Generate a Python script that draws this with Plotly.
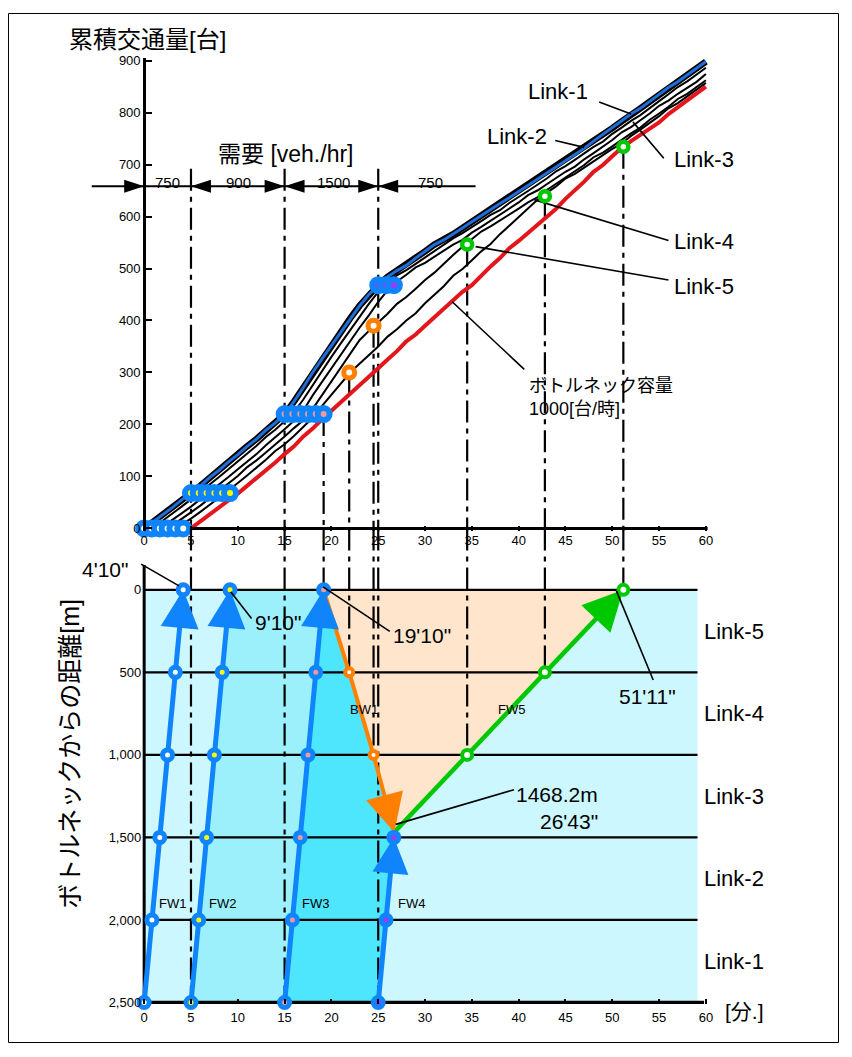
import plotly.graph_objects as go

# page: 852x1057 window, default 8px body margin -> figure 836x1041 placed at (8, 8)
OX, OY = 8, 8
W, H = 836, 1041

# ---------------- data ----------------
minutes = list(range(61))
# cumulative vehicle counts at link boundaries
cum_2500 = [0, 13, 27, 40, 55, 68, 82, 98, 112, 128,
            142, 158, 172, 189, 203, 220, 244, 271, 300, 326,
            352, 378, 404, 428, 450, 468, 484, 496, 506, 520,
            533, 546, 555, 566, 578, 590, 602, 614, 625, 636,
            648, 660, 672, 683, 696, 708, 720, 731, 745, 758,
            770, 783, 797, 808, 821, 834, 848, 859, 872, 885,
            898]
cum_2000 = [None, 2, 15, 29, 42, 56, 70, 84, 99, 114,
            129, 144, 159, 176, 190, 206, 224, 248, 276, 304,
            330, 356, 381, 408, 432, 455, 472, 487, 497, 509,
            521, 534, 545, 558, 568, 579, 591, 603, 612, 626,
            637, 649, 661, 673, 687, 697, 709, 721, 734, 744,
            759, 771, 784, 795, 809, 822, 835, 849, 860, 873,
            886]
cum_1500 = [None, None, 4, 16, 29, 42, 56, 70, 85, 99,
            114, 129, 143, 160, 175, 191, 207, 227, 256, 282,
            308, 335, 360, 386, 410, 436, 458, 475, 488, 502,
            511, 523, 535, 546, 555, 569, 580, 592, 604, 615,
            627, 641, 650, 662, 674, 686, 696, 710, 722, 735,
            747, 762, 772, 785, 798, 813, 823, 836, 848, 859,
            874]
cum_1000 = [None, None, None, 6, 18, 31, 44, 58, 72, 86,
            101, 118, 131, 146, 161, 177, 193, 208, 230, 256,
            283, 310, 336, 362, 380, 396, 413, 432, 445, 461,
            478, 492, 510, 526, 542, 557, 571, 581, 592, 604,
            615, 627, 637, 651, 663, 675, 687, 699, 714, 723,
            735, 748, 760, 771, 786, 798, 811, 826, 836, 849,
            862]
cum_500 = [None, None, None, None, 8, 19, 32, 45, 59, 73,
           87, 102, 117, 132, 149, 162, 178, 195, 213, 236,
           258, 280, 300, 317, 333, 350, 369, 383, 400, 414,
           433, 450, 466, 486, 499, 516, 533, 547, 566, 582,
           599, 616, 632, 646, 658, 673, 682, 694, 706, 718,
           730, 740, 755, 767, 780, 793, 808, 818, 831, 844,
           857]
cum_bottleneck = [None, None, None, None, None, 0, 14, 27, 42, 54,
                  67, 82, 95, 112, 127, 143, 158, 177, 192, 210,
                  226, 243, 260, 274, 292, 308, 325, 341, 360, 373,
                  390, 406, 422, 438, 455, 468, 487, 504, 520, 539,
                  553, 569, 585, 601, 615, 634, 650, 667, 686, 699,
                  716, 732, 745, 757, 771, 781, 797, 810, 823, 836,
                  850]

x_ticks = [0, 5, 10, 15, 20, 25, 30, 35, 40, 45, 50, 55, 60]
cum_ticks = [0, 100, 200, 300, 400, 500, 600, 700, 800, 900]
dist_ticks = [0, 500, 1000, 1500, 2000, 2500]
dist_tick_text = ["0", "500", "1,000", "1,500", "2,000", "2,500"]

# demand
demand_breaks = [0, 5, 15, 25]
demand_line_t = [-5.6, 35.4]
demand_level = 658
demand_top = 692
demand_values = ["750", "900", "1500", "750"]
demand_label_t = [2.5, 10.1, 20.2, 30.6]
# (tip, tail) of the dimension arrowheads
dim_heads = [(0, -2.6), (5, 7.6), (15, 12.4), (15, 17.6), (25, 22.4), (25, 27.6)]

# links (bottom chart)
link_bounds = [0, 500, 1000, 1500, 2000]
link_names = ["Link-5", "Link-4", "Link-3", "Link-2", "Link-1"]
link_mid = [250, 750, 1250, 1750, 2250]
diagram_end_t = 59.1

# shock / forward waves
fw_d = [2500, 2000, 1500, 1000, 500, 0]
fw1_t = [0, 0.83, 1.67, 2.5, 3.33, 4.17]
fw2_t = [5, 5.83, 6.67, 7.5, 8.33, 9.17]
fw3_t = [15, 15.83, 16.67, 17.5, 18.33, 19.17]
fw4_t = [25, 25.83, 26.67]
fw4_d = [2500, 2000, 1500]
fw_N = [0, 68, 220, 468]            # cumulative count carried by FW1..FW4
meet_t, meet_d = 26.72, 1468.2
bw1_t = [19.17, 21.9, 24.5, 26.72]
bw1_d = [0, 500, 1000, 1468.2]
bw1_N = [300, 390]                  # at 500 m and 1000 m
fw5_t = [26.72, 34.5, 42.8, 51.18]
fw5_d = [1468.2, 1000, 500, 0]
fw5_N = [546, 639, 734]
fw_centers = ["white", "#ffff00", "#f59a9a", "#9b3cf0"]

# ---------------- styles ----------------
FONT = "Liberation Sans, Arial, Noto Sans CJK JP, sans-serif"
BLUE = "#0f84fb"
CURVE_BLUE = "#1e6fd9"
RED = "#e3161c"
ORANGE = "#ff8000"
GREEN = "#00c800"
LIGHT = "#ccf7ff"
MED = "#9cf0fc"
DARK = "#4de6fc"
PEACH = "#ffe5cc"
DD = "22px,6px,5px,6px"


def px(p):
    return (p - OX) / W


def py(p):
    return 1 - (p - OY) / H


XR = [-6.05, 60.2]
XDOM = [px(88), px(712)]
Y1R = [-5, 905]
Y1DOM = [py(531.6), py(53.4)]
Y2R = [2510, -372]
Y2DOM = [py(1009.7), py(528.95)]
AXIS_X = px(145)

fig = go.Figure()


def axes(sub):
    return ("x", "y") if sub == 1 else ("x2", "y2")


def add_line(x, y, sub, color="black", width=2, dash=None):
    xa, ya = axes(sub)
    fig.add_trace(go.Scatter(x=x, y=y, xaxis=xa, yaxis=ya, mode="lines",
                             line=dict(color=color, width=width, dash=dash),
                             hoverinfo="skip", showlegend=False))


def add_markers(x, y, sub, ring, center, size, lw):
    xa, ya = axes(sub)
    fig.add_trace(go.Scatter(x=x, y=y, xaxis=xa, yaxis=ya, mode="markers",
                             marker=dict(symbol="circle", size=size, color=center,
                                         opacity=1, line=dict(color=ring, width=lw)),
                             cliponaxis=False, hoverinfo="skip", showlegend=False))


def add_head(x_from, y_from, x_tip, y_tip, sub, color, symbol, size):
    # arrowhead marker oriented along the segment (from -> tip)
    xa, ya = axes(sub)
    fig.add_trace(go.Scatter(x=[x_from, x_tip], y=[y_from, y_tip], xaxis=xa, yaxis=ya,
                             mode="markers",
                             marker=dict(symbol=symbol, size=[0, size], color=color,
                                         opacity=1, angleref="previous",
                                         line=dict(width=0)),
                             cliponaxis=False, hoverinfo="skip", showlegend=False))


def add_fill(x, y, color):
    fig.add_trace(go.Scatter(x=x, y=y, xaxis="x2", yaxis="y2", mode="lines",
                             fill="toself", fillcolor=color, line=dict(width=0),
                             hoverinfo="skip", showlegend=False))


# ---------------- bottom chart ----------------
add_fill([0, diagram_end_t, diagram_end_t, 0], [0, 0, 2500, 2500], LIGHT)
add_fill(fw2_t + fw3_t[::-1], fw_d + fw_d[::-1], MED)
add_fill(fw3_t + bw1_t[1:] + [meet_t] + fw4_t[::-1],
         fw_d + bw1_d[1:] + [meet_d] + fw4_d[::-1], DARK)
add_fill(bw1_t + fw5_t[1:], bw1_d + fw5_d[1:], PEACH)

for d in link_bounds:
    add_line([0, diagram_end_t], [d, d], 2, width=2.2)
add_line([0, diagram_end_t], [2500, 2500], 2, width=2)
add_line([0, 59.8], [2500, 2500], 2, width=3.5)
add_line([0, 0], [-150, 2500], 2, width=3)

# vertical dash-dot connectors
connectors = [(bw1_t[0], fw_N[2], bw1_d[0]),
              (bw1_t[1], bw1_N[0], bw1_d[1]),
              (bw1_t[2], bw1_N[1], bw1_d[2]),
              (fw5_t[1], fw5_N[0], fw5_d[1]),
              (fw5_t[2], fw5_N[1], fw5_d[2]),
              (fw5_t[3], fw5_N[2], fw5_d[3])]
for t in demand_breaks[1:]:
    add_line([t, t], [demand_top, Y1R[0]], 1, width=2.2, dash=DD)
    add_line([t, t], [Y2R[1], 2500], 2, width=2.2, dash=DD)
for t, n, d in connectors:
    add_line([t, t], [n, Y1R[0]], 1, width=2.2, dash=DD)
    add_line([t, t], [Y2R[1], d], 2, width=2.2, dash=DD)

# waves
for tt in (fw1_t, fw2_t, fw3_t):
    add_line(tt, fw_d, 2, BLUE, 5)
add_line(fw4_t + [meet_t], fw4_d + [meet_d], 2, BLUE, 5)
add_line(bw1_t, bw1_d, 2, ORANGE, 4)
add_line(fw5_t, fw5_d, 2, GREEN, 4.5)

# wave arrowheads
for tt in (fw1_t, fw2_t, fw3_t):
    add_head(tt[-2], fw_d[-2], tt[-1], fw_d[-1], 2, BLUE, "arrow-up", 38)
add_head(fw4_t[-2], fw4_d[-2], fw4_t[-1], fw4_d[-1], 2, BLUE, "arrow-up", 36)
add_head(bw1_t[-2], bw1_d[-2], bw1_t[-1], bw1_d[-1], 2, ORANGE, "arrow-up", 38)
add_head(fw5_t[-2], fw5_d[-2], fw5_t[-1], fw5_d[-1], 2, GREEN, "arrow-up", 40)

for tt, c in zip((fw1_t, fw2_t, fw3_t), fw_centers[:3]):
    add_markers(tt, fw_d, 2, BLUE, c, 10, 5)
add_markers(fw4_t, fw4_d, 2, BLUE, fw_centers[3], 10, 5)
add_markers(bw1_t[1:3], bw1_d[1:3], 2, ORANGE, "white", 8, 4)
add_markers(fw5_t[1:], fw5_d[1:], 2, GREEN, "white", 10, 4)

# ---------------- top chart ----------------
add_line(demand_line_t, [demand_level, demand_level], 1, width=2)
for tip, tail in dim_heads:
    add_head(tail, demand_level, tip, demand_level, 1, "black", "arrow", 21)
for c in (cum_2000, cum_1500, cum_1000, cum_500):
    add_line(minutes, c, 1, "black", 2)
add_line(minutes, cum_2500, 1, "black", 6.5)
add_line(minutes, cum_2500, 1, CURVE_BLUE, 3)
add_line(minutes, cum_bottleneck, 1, RED, 4)
add_line([0, XR[1]], [0, 0], 1, width=3)

# leaders (top)
top_leaders = [([48.6, 52.0], [820, 797]),
               ([43.9, 47.0], [746, 733]),
               ([55.5, 52.2], [712, 782]),
               ([56.0, 41.7], [554, 632]),
               ([56.0, 35.4], [478, 542]),
               ([40.6, 32.9], [306, 436])]
for lx, ly in top_leaders:
    add_line(lx, ly, 1, width=1.6)

for tt, n, c in zip((fw1_t, fw2_t, fw3_t), fw_N[:3], fw_centers[:3]):
    add_markers(tt, [n] * len(tt), 1, BLUE, c, 12, 6)
add_markers(fw4_t, [fw_N[3]] * len(fw4_t), 1, BLUE, fw_centers[3], 12, 6)
add_markers(bw1_t[1:3], bw1_N, 1, ORANGE, "white", 11, 5)
add_markers(fw5_t[1:], fw5_N, 1, GREEN, "white", 10, 4.5)

# leaders (bottom)
bottom_leaders = [([-0.32, 3.72], [-156, -24]),
                  ([9.24, 11.47], [12, 174]),
                  ([19.11, 26.23], [-18, 252]),
                  ([50.44, 54.37], [6, 546]),
                  ([26.87, 39.5], [1421, 1211])]
for lx, ly in bottom_leaders:
    add_line(lx, ly, 2, width=1.6)

# ---------------- annotations ----------------
ann = []


def text(x, y, s, size, sub=1, **kw):
    xa, ya = axes(sub)
    d = dict(x=x, y=y, xref=xa, yref=ya, text=s, showarrow=False,
             xanchor="center", yanchor="middle",
             font=dict(family=FONT, size=size, color="black"))
    d.update(kw)
    ann.append(d)


for s, t in zip(demand_values, demand_label_t):
    text(t, demand_level + 8, s, 15)
text(15.1, 721, "需要 [veh./hr]", 23)

# top labels
text(44.2, 841, "Link-1", 22)
text(39.8, 753, "Link-2", 22)
text(59.8, 710, "Link-3", 22)
text(59.8, 552, "Link-4", 22)
text(59.8, 466, "Link-5", 22)
text(40.9, 251, "ボトルネック容量<br>1000[台/時]", 18, xanchor="left", align="left")

# bottom labels
for name, mid in zip(link_names, link_mid):
    text(59.6, mid, name, 22, sub=2, xanchor="left")
text(-4.1, -126, "4'10\"", 21, sub=2)
text(14.3, 198, "9'10\"", 21, sub=2)
text(29.7, 276, "19'10\"", 21, sub=2)
text(53.8, 647, "51'11\"", 21, sub=2)
text(44.1, 1241, "1468.2m", 21, sub=2)
text(45.4, 1403, "26'43\"", 21, sub=2)
text(23.5, 725, "BW1", 13, sub=2)
text(39.2, 725, "FW5", 13, sub=2)
for s, t in zip(["FW1", "FW2", "FW3", "FW4"], [3.0, 8.4, 18.3, 28.5]):
    text(t, 1900, s, 13, sub=2)
text(60.0, 2500, "[分.]", 21, sub=2, xanchor="left", xshift=17, yshift=-9)

# paper texts
ann.append(dict(x=px(148), y=py(35), xref="paper", yref="paper", text="累積交通量[台]",
                xanchor="center", yanchor="middle", showarrow=False,
                font=dict(family=FONT, size=24, color="black")))
ann.append(dict(x=px(70), y=py(757), xref="paper", yref="paper",
                text="ボトルネックからの距離[m]", textangle=-90,
                xanchor="center", yanchor="middle", showarrow=False,
                font=dict(family=FONT, size=25, color="black")))

tickfont = dict(family=FONT, size=13, color="black")
fig.update_layout(
    width=W, height=H, autosize=False,
    margin=dict(l=0, r=0, t=0, b=0, pad=0),
    paper_bgcolor="white", plot_bgcolor="rgba(0,0,0,0)",
    showlegend=False, hovermode=False,
    font=dict(family=FONT, color="black"),
    xaxis=dict(domain=XDOM, range=XR, anchor="y", showgrid=False, zeroline=False,
               showline=False, tickmode="array", tickvals=x_ticks, ticks="inside",
               ticklen=5, tickwidth=2, tickcolor="black", tickfont=tickfont),
    yaxis=dict(domain=Y1DOM, range=Y1R, anchor="free", position=AXIS_X, showgrid=False,
               zeroline=False, showline=True, linewidth=3, linecolor="black",
               tickmode="array", tickvals=cum_ticks, ticks="inside", ticklen=6,
               tickwidth=2, tickcolor="black", tickfont=tickfont),
    xaxis2=dict(domain=XDOM, range=XR, anchor="y2", showgrid=False, zeroline=False,
                showline=False, tickmode="array", tickvals=x_ticks, ticks="inside",
                ticklen=5, tickwidth=2, tickcolor="black", tickfont=tickfont,
                ticklabelstandoff=4),
    yaxis2=dict(domain=Y2DOM, range=Y2R, anchor="free", position=AXIS_X, showgrid=False,
                zeroline=False, showline=False, tickmode="array", tickvals=dist_ticks,
                ticktext=dist_tick_text, ticks="", ticklabelstandoff=3, tickfont=tickfont),
    annotations=ann,
    shapes=[dict(type="rect", xref="paper", yref="paper", x0=px(8.5), x1=px(843.5),
                 y0=py(1048.5), y1=py(8.5), line=dict(color="black", width=1))],
)

fig.write_html("out.html", config={"displayModeBar": False})
